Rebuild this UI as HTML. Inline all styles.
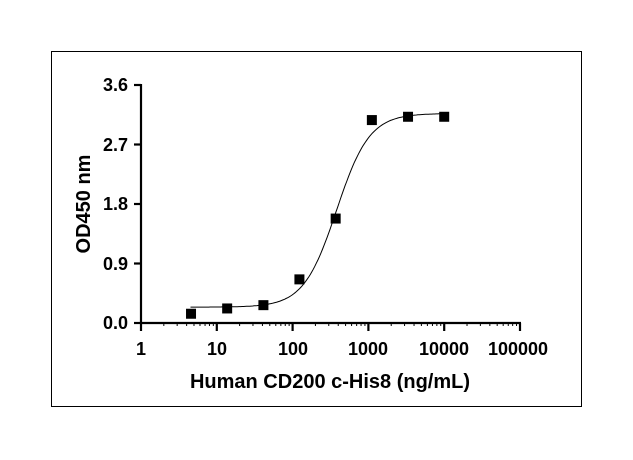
<!DOCTYPE html>
<html><head><meta charset="utf-8"><style>
body{margin:0;background:#fff}
svg{display:block;font-family:"Liberation Sans",Arial,sans-serif;font-weight:bold}
</style></head><body>
<svg id="s" width="633" height="460" viewBox="0 0 633 460">
<rect x="51.5" y="51.5" width="530" height="355" fill="none" stroke="#000" stroke-width="1"/>
<g stroke="#000" stroke-width="2.2" fill="none">
<line x1="141" y1="84" x2="141" y2="324"/>
<line x1="140" y1="323" x2="521" y2="323"/>
<line x1="134" y1="85" x2="141" y2="85"/>
<line x1="134" y1="144.5" x2="141" y2="144.5"/>
<line x1="134" y1="204" x2="141" y2="204"/>
<line x1="134" y1="263.5" x2="141" y2="263.5"/>
<line x1="134" y1="323" x2="141" y2="323"/>
</g>
<g id="xt" stroke="#000" fill="none"></g>
<g font-size="18" text-anchor="end">
<text x="128" y="91">3.6</text>
<text x="128" y="151">2.7</text>
<text x="128" y="210">1.8</text>
<text x="128" y="270">0.9</text>
<text x="128" y="329">0.0</text>
</g>
<g font-size="18" text-anchor="middle">
<text x="141" y="355">1</text>
<text x="217" y="355">10</text>
<text x="293" y="355">100</text>
<text x="368" y="355">1000</text>
<text x="444" y="355">10000</text>
<text x="518" y="355">100000</text>
</g>
<text x="330" y="388" font-size="20" text-anchor="middle">Human CD200 c-His8 (ng/mL)</text>
<text transform="translate(90,204) rotate(-90)" font-size="20" text-anchor="middle">OD450 nm</text>
<polyline id="c" fill="none" stroke="#000" stroke-width="1"/>
<g id="p" fill="#000"></g>
</svg>
<script>
var X=function(v){return 141+Math.log10(v)*75.8},Y=function(v){return 323-v*66.1};
var xt=document.getElementById('xt'),h='';
for(var d=0;d<5;d++){for(var k=1;k<=10;k++){var x=X(Math.pow(10,d)*k);if(k==1)continue;
if(k==10)h+='<line x1="'+x+'" y1="323" x2="'+x+'" y2="331" stroke-width="2.2"/>';
else h+='<line x1="'+x+'" y1="323" x2="'+x+'" y2="326" stroke-width="1"/>';}}
h+='<line x1="141" y1="323" x2="141" y2="331" stroke-width="2.2"/>';
xt.innerHTML=h;
var pts=[];for(var l=Math.log10(4.5);l<=4.0001;l+=0.02){var v=Math.pow(10,l);var y=0.24+2.93/(1+Math.pow(380/v,2.0));pts.push(X(v).toFixed(1)+','+Y(y).toFixed(1));}
document.getElementById('c').setAttribute('points',pts.join(' '));
var d=[[4.57,0.14],[13.7,0.22],[41.2,0.27],[123,0.66],[370,1.58],[1111,3.07],[3333,3.12],[10000,3.12]],p='';
d.forEach(function(a){p+='<rect x="'+(X(a[0])-5)+'" y="'+(Y(a[1])-5)+'" width="10" height="10"/>';});
document.getElementById('p').innerHTML=p;
</script>
</body></html>
